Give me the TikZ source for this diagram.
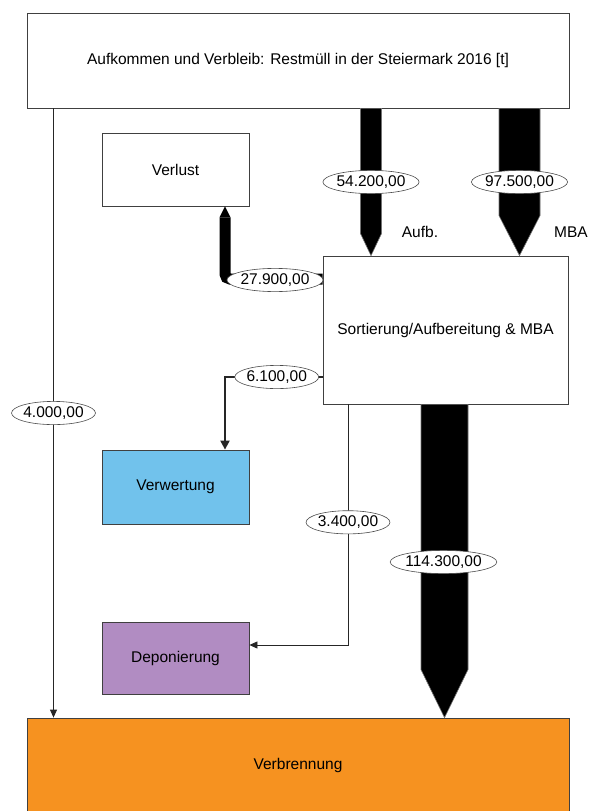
\documentclass[tikz,border=0pt]{standalone}
\usepackage{fontspec}
\setmainfont{Liberation Sans}
\usetikzlibrary{arrows.meta,shapes.geometric,calc}
\definecolor{verwblue}{RGB}{113,194,236}
\definecolor{deppurple}{RGB}{177,140,194}
\definecolor{verbrorange}{RGB}{246,146,32}
\definecolor{boxline}{RGB}{64,64,64}

\begin{document}
\begin{tikzpicture}[
    x=1pt, y=-1pt,
    every node/.style={font=\fontsize{15.5}{18}\selectfont},
    box/.style={rectangle, draw=boxline, line width=0.8pt, inner sep=0pt},
    lab/.style={ellipse, draw=black!70, line width=0.6pt, fill=white, inner xsep=-0.5pt, inner ysep=1.8pt},
    flow/.style={fill=black, draw=black!55, line width=0.6pt},
    thinflow/.style={draw=black!85, line width=0.8pt, -{Triangle[length=8pt, width=7pt]}}
]
    \useasboundingbox (0,0) rectangle (589,811);

    % Prozesse
    \node[box, minimum width=542pt, minimum height=95pt] (title) at (298,60.5) {Aufkommen und Verbleib: Restmüll in der Steiermark 2016 [t]};
    \node[box, minimum width=147pt, minimum height=73pt] (verlust) at (175.5,169.5) {Verlust};
    \node[box, minimum width=245pt, minimum height=148pt] (sort) at (445.5,330) {Sortierung/Aufbereitung \& MBA};
    \node[box, fill=verwblue, minimum width=147pt, minimum height=74pt] (verw) at (175.5,487) {Verwertung};
    \node[box, fill=deppurple, minimum width=147pt, minimum height=72pt] (depon) at (175.5,658) {Deponierung};
    \node[box, fill=verbrorange, minimum width=542pt, minimum height=95pt] (verbr) at (298,765.5) {Verbrennung};

    % Fluesse in die Aufbereitung
    \coordinate (aufbin) at ([xshift=73pt]title.south);
    \coordinate (aufbout) at (aufbin |- sort.north);
    \fill[flow] ($(aufbin)+(-10.5,0)$) -- ($(aufbout)+(-10.5,-22)$) -- (aufbout) -- ($(aufbout)+(10.5,-22)$) -- ($(aufbin)+(10.5,0)$) -- cycle;
    \coordinate (mbain) at ([xshift=221.5pt]title.south);
    \coordinate (mbaout) at (mbain |- sort.north);
    \fill[flow] ($(mbain)+(-20.5,0)$) -- ($(mbaout)+(-20.5,-40)$) -- (mbaout) -- ($(mbaout)+(20.5,-40)$) -- ($(mbain)+(20.5,0)$) -- cycle;
    \node[lab] (l54) at (371,182) {54.200,00};
    \node[lab] (l97) at (519.5,182) {97.500,00};
    \node (aufbtxt) at (420,232) {Aufb.};
    \node (mbatxt) at (571,232) {MBA};

    % Verlust
    \draw[line width=11pt, rounded corners=5pt] ([yshift=51pt]sort.west) -| ([xshift=49.5pt, yshift=-11pt]verlust.south);
    \fill ([xshift=49.5pt]verlust.south) -- ++(5.5,11) -- ++(-11,0) -- cycle;
    \node[lab] (l279) at (275,280) {27.900,00};

    % Verwertung und Deponierung
    \draw[thinflow, line width=2pt, -{Triangle[length=9pt, width=9pt]}] ([yshift=-47pt]sort.west) -| node[lab, pos=0.235] (l61) {6.100,00} ([xshift=49.5pt]verw.north);
    \draw[thinflow] ([xshift=-97.5pt]sort.south) |- node[lab, pos=0.245] (l34) {3.400,00} ([yshift=13pt]depon.east);

    % direkt in die Verbrennung
    \draw[thinflow] ([xshift=-244.5pt]title.south) -- node[lab] (l40) {4.000,00} ([xshift=-244.5pt]verbr.north);
    \coordinate (mvin) at ([xshift=-1pt]sort.south);
    \coordinate (mvout) at (mvin |- verbr.north);
    \fill[flow] ($(mvin)+(-23.5,0)$) -- ($(mvout)+(-23.5,-48)$) -- (mvout) -- ($(mvout)+(23.5,-48)$) -- ($(mvin)+(23.5,0)$) -- cycle;
    \node[lab] (l1143) at (443.5,562) {114.300,00};
\end{tikzpicture}
\end{document}
